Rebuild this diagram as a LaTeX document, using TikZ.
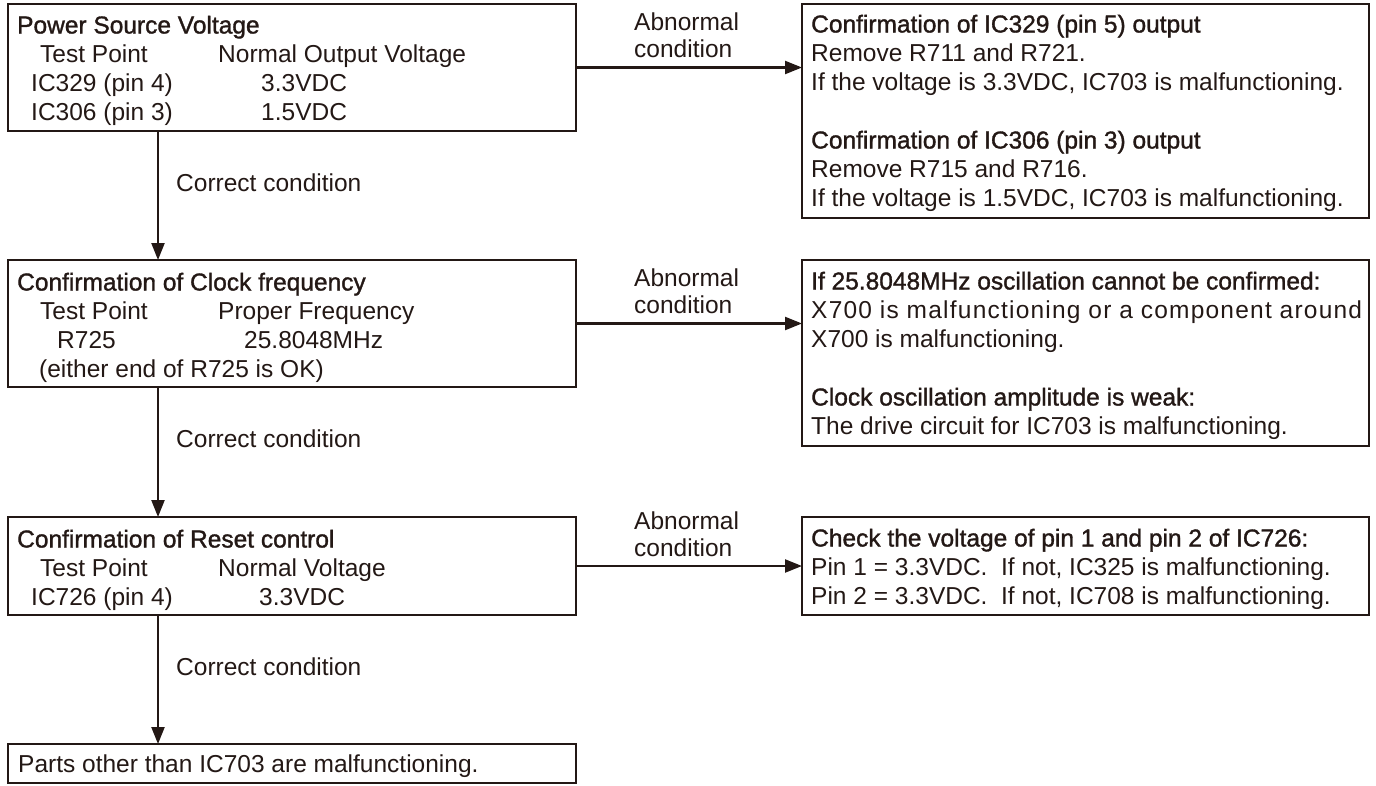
\documentclass[tikz,border=0pt]{standalone}
\usepackage{fontspec}
\setmainfont{Liberation Sans}
\newfontfamily\ttlfont[FakeBold=1.3]{Liberation Sans}
\newfontfamily\spacedfont[LetterSpace=5]{Liberation Sans}
\usetikzlibrary{arrows.meta}
\definecolor{ink}{HTML}{231815}
\begin{document}
\begin{tikzpicture}[x=1pt,y=-1pt,
  boxsty/.style={draw=ink,line width=2.8pt,anchor=north west,inner sep=0pt,outer sep=0pt},
  arrsty/.style={draw=ink,line width=2.3pt,-{Triangle[length=17pt,width=13pt]}},
  txt/.style={anchor=base west,inner sep=0pt,text=ink,font=\fontsize{24.5}{29}\selectfont},
  ttl/.style={txt,font=\fontsize{24.5}{29}\selectfont\ttlfont}]
\useasboundingbox (0,0) rectangle (1376,785);
% left boxes
\node[boxsty,minimum width=568pt,minimum height=127pt] (b1) at (8,4) {};
\node[boxsty,minimum width=568pt,minimum height=127pt] (b2) at (8,260) {};
\node[boxsty,minimum width=568pt,minimum height=98pt] (b3) at (8,517) {};
\node[boxsty,minimum width=568pt,minimum height=39pt] (b4) at (8,744) {};
% right boxes
\node[boxsty,minimum width=567pt,minimum height=214pt] (r1) at (802,4) {};
\node[boxsty,minimum width=567pt,minimum height=186pt] (r2) at (802,260) {};
\node[boxsty,minimum width=567pt,minimum height=98pt] (r3) at (802,517) {};
% connectors
\draw[arrsty] ([xshift=150pt]b1.south west) -- ([xshift=150pt]b2.north west);
\draw[arrsty] ([xshift=150pt]b2.south west) -- ([xshift=150pt]b3.north west);
\draw[arrsty] ([xshift=150pt]b3.south west) -- ([xshift=150pt]b4.north west);
\draw[arrsty] (b1.east) -- (b1.east -| r1.west);
\draw[arrsty] (b2.east) -- (b2.east -| r2.west);
\draw[arrsty] (b3.east) -- (b3.east -| r3.west);
% connector labels
\node[txt] (c1) at (176,191.5) {Correct condition};
\node[txt] (c2) at (176,447.5) {Correct condition};
\node[txt] (c3) at (176,675.5) {Correct condition};
\node[txt] (a1a) at (634,30.5) {Abnormal};
\node[txt] (a1b) at (634,57.5) {condition};
\node[txt] (a2a) at (634,286.5) {Abnormal};
\node[txt] (a2b) at (634,313.5) {condition};
\node[txt] (a3a) at (634,529.5) {Abnormal};
\node[txt] (a3b) at (634,556.5) {condition};
% box 1
\node[ttl] (t11) at (17,33.5) {Power Source Voltage};
\node[txt] (t12) at (40,62.5) {Test Point};
\node[txt] (t13) at (218,62.5) {Normal Output Voltage};
\node[txt] (t14) at (31,91.5) {IC329 (pin 4)};
\node[txt] (t15) at (261,91.5) {3.3VDC};
\node[txt] (t16) at (31,120.5) {IC306 (pin 3)};
\node[txt] (t17) at (261,120.5) {1.5VDC};
% box 2
\node[ttl] (t21) at (17,290.5) {Confirmation of Clock frequency};
\node[txt] (t22) at (40,319.5) {Test Point};
\node[txt] (t23) at (218,319.5) {Proper Frequency};
\node[txt] (t24) at (57,348.5) {R725};
\node[txt] (t25) at (244,348.5) {25.8048MHz};
\node[txt] (t26) at (39,377.5) {(either end of R725 is OK)};
% box 3
\node[ttl] (t31) at (17,547.5) {Confirmation of Reset control};
\node[txt] (t32) at (40,576.5) {Test Point};
\node[txt] (t33) at (218,576.5) {Normal Voltage};
\node[txt] (t34) at (31,605.5) {IC726 (pin 4)};
\node[txt] (t35) at (259,605.5) {3.3VDC};
% box 4
\node[txt] (t41) at (18,772.5) {Parts other than IC703 are malfunctioning.};
% right box 1
\node[ttl] (u11) at (811,32.5) {Confirmation of IC329 (pin 5) output};
\node[txt] (u12) at (811,61.5) {Remove R711 and R721.};
\node[txt] (u13) at (811,90.5) {If the voltage is 3.3VDC, IC703 is malfunctioning.};
\node[ttl] (u14) at (811,148.5) {Confirmation of IC306 (pin 3) output};
\node[txt] (u15) at (811,177.5) {Remove R715 and R716.};
\node[txt] (u16) at (811,206.5) {If the voltage is 1.5VDC, IC703 is malfunctioning.};
% right box 2
\node[ttl] (u21) at (811,289.5) {If 25.8048MHz oscillation cannot be confirmed:};
\node[txt] (u22) at (811,318.5) {\makebox[551pt][s]{\spacedfont X700 is malfunctioning or a component around}};
\node[txt] (u23) at (811,347.5) {X700 is malfunctioning.};
\node[ttl] (u24) at (811,405.5) {Clock oscillation amplitude is weak:};
\node[txt] (u25) at (811,434.5) {The drive circuit for IC703 is malfunctioning.};
% right box 3
\node[ttl] (u31) at (811,546.5) {Check the voltage of pin 1 and pin 2 of IC726:};
\node[txt] (u32) at (811,575.5) {Pin 1 = 3.3VDC.\ \ If not, IC325 is malfunctioning.};
\node[txt] (u33) at (811,604.5) {Pin 2 = 3.3VDC.\ \ If not, IC708 is malfunctioning.};
\end{tikzpicture}
\end{document}
